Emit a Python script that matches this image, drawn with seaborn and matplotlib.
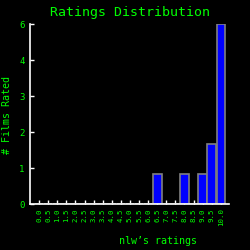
import numpy as np
import pandas as pd
import seaborn as sns
import matplotlib
matplotlib.use("Agg")
import matplotlib.pyplot as plt

ratings = ["0.0", "0.5", "1.0", "1.5", "2.0", "2.5", "3.0", "3.5", "4.0", "4.5",
           "5.0", "5.5", "6.0", "6.5", "7.0", "7.5", "8.0", "8.5", "9.0", "9.5", "10.0"]
counts = [0, 0, 0, 0, 0, 0, 0, 0, 0, 0,
          0, 0, 0, 1, 0, 0, 1, 0, 1, 2, 6]
ytick_labels = ["0", "1", "2", "3", "4", "6"]

GREEN = "#00ff00"

sns.set_style("dark")
plt.rcParams["font.family"] = ["DejaVu Sans Mono"]

fig = plt.figure(figsize=(2.5, 2.5), dpi=100, facecolor="black")
ax = fig.add_axes([0.12, 0.184, 0.796, 0.72])
ax.set_facecolor("black")

df = pd.DataFrame({"rating": ratings, "count": counts})
sns.barplot(data=df, x="rating", y="count", order=ratings, color="#0000ff",
            saturation=1, width=0.95, edgecolor="#808080", linewidth=1.2, ax=ax)

ax.set_xlim(-1.0, len(ratings) - 0.1)
ax.set_ylim(0, 6)
# the original's axis puts 0-4 on a stretched scale with 6 at the top
ax.set_yticks([0, 1.2, 2.4, 3.6, 4.8, 6])
ax.set_yticklabels(ytick_labels)
ax.set_axisbelow(True)
ax.grid(False)

for side in ["top", "right"]:
    ax.spines[side].set_visible(False)
for side in ["left", "bottom"]:
    ax.spines[side].set_visible(True)
    ax.spines[side].set_color("white")
    ax.spines[side].set_linewidth(1.2)

ax.tick_params(axis="both", direction="in", length=3, width=1, color="white",
               labelcolor=GREEN, labelsize=6.5, bottom=True, left=True)
ax.tick_params(axis="x", labelrotation=90, pad=3, labelsize=5.3)
ax.tick_params(axis="y", pad=4)

ax.set_title("Ratings Distribution", color=GREEN, fontsize=9.5, pad=6)
ax.set_xlabel("nlw\u2019s ratings", color=GREEN, fontsize=7.2)
ax.set_ylabel("# Films Rated", color=GREEN, fontsize=7.2)
ax.xaxis.set_label_coords(0.643, -0.178)
ax.yaxis.set_label_coords(-0.09, 0.494)

fig.savefig("out.png", dpi=100, facecolor="black")
